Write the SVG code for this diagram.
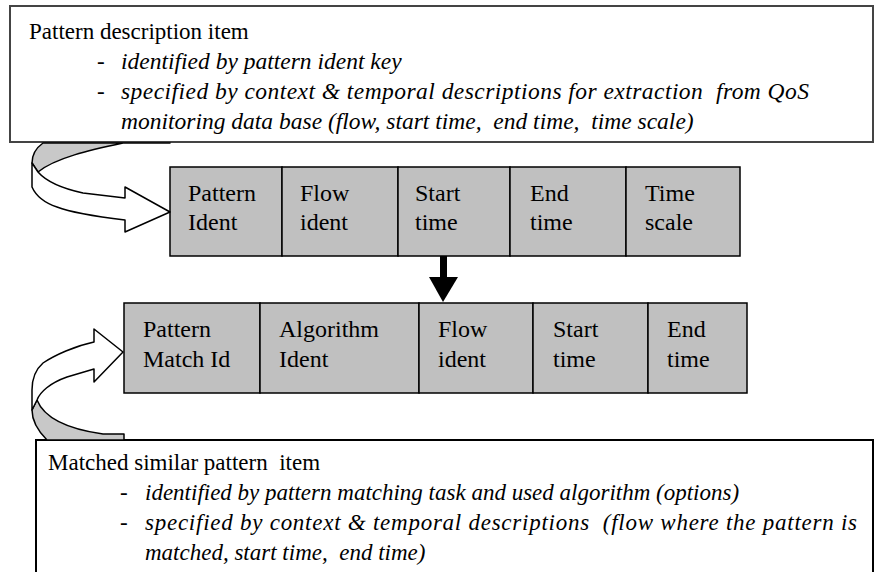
<svg xmlns="http://www.w3.org/2000/svg" width="874" height="572" viewBox="0 0 874 572">
<style>
text{font-family:"Liberation Serif","Times New Roman",serif;fill:#000;white-space:pre}
.body{font-size:23px}
.it{font-size:23px;font-style:italic}
.it2{font-size:23.5px;font-style:italic}
.cell{font-size:24px}
.box{fill:#c0c0c0;stroke:#000;stroke-width:1.5}
.panel{fill:#fff;stroke:#444;stroke-width:2}
.ribbon{stroke:#000;stroke-width:1.5;stroke-linejoin:round}
</style>
<rect width="874" height="572" fill="#fff"/>
<g id="pattern-description">
<rect class="panel" x="10" y="6" width="863" height="136"/>
<text class="body" x="29" y="39">Pattern description item</text>
<text class="body" x="97" y="69">-</text>
<text class="it2" x="121" y="69">identified by pattern ident key</text>
<text class="body" x="97" y="99">-</text>
<text class="it2" x="121" y="99" textLength="688" lengthAdjust="spacing">specified by context &amp; temporal descriptions for extraction  from QoS</text>
<text class="it2" x="121" y="129">monitoring data base (flow, start time,  end time,  time scale)</text>
</g>
<g id="matched-pattern">
<rect class="panel" x="36" y="440" width="837" height="150" style="stroke:#000"/>
<text class="body" x="48" y="470">Matched similar pattern  item</text>
<text class="body" x="120" y="500">-</text>
<text class="it" x="145" y="500">identified by pattern matching task and used algorithm (options)</text>
<text class="body" x="120" y="530">-</text>
<text class="it" x="145" y="530" textLength="712" lengthAdjust="spacing">specified by context &amp; temporal descriptions  (flow where the pattern is</text>
<text class="it" x="145" y="560">matched, start time,  end time)</text>
</g>
<g id="description-record">
<rect class="box" x="170" y="167" width="112" height="89"/>
<rect class="box" x="282" y="167" width="116" height="89"/>
<rect class="box" x="398" y="167" width="112" height="89"/>
<rect class="box" x="510" y="167" width="116" height="89"/>
<rect class="box" x="626" y="167" width="114" height="89"/>
<text class="cell" x="188" y="201">Pattern</text><text class="cell" x="188" y="230">Ident</text>
<text class="cell" x="300" y="201">Flow</text><text class="cell" x="300" y="230">ident</text>
<text class="cell" x="415" y="201">Start</text><text class="cell" x="415" y="230">time</text>
<text class="cell" x="530" y="201">End</text><text class="cell" x="530" y="230">time</text>
<text class="cell" x="645" y="201">Time</text><text class="cell" x="645" y="230">scale</text>
</g>
<g id="match-record">
<rect class="box" x="124" y="303" width="136" height="90"/>
<rect class="box" x="260" y="303" width="159" height="90"/>
<rect class="box" x="419" y="303" width="114" height="90"/>
<rect class="box" x="533" y="303" width="115" height="90"/>
<rect class="box" x="648" y="303" width="99" height="90"/>
<text class="cell" x="143" y="337">Pattern</text><text class="cell" x="143" y="367">Match Id</text>
<text class="cell" x="279" y="337">Algorithm</text><text class="cell" x="279" y="367">Ident</text>
<text class="cell" x="438" y="337">Flow</text><text class="cell" x="438" y="367">ident</text>
<text class="cell" x="553" y="337">Start</text><text class="cell" x="553" y="367">time</text>
<text class="cell" x="667" y="337">End</text><text class="cell" x="667" y="367">time</text>
</g>
<g id="connectors">
<path class="ribbon" fill="#c8c8c8" d="M43,143 L170,143 L123,143 C90,150 55,158 38,172 L32,163 C32,155 36,148 43,143 Z"/>
<path class="ribbon" fill="#fff" d="M32,163 L38,172 C45,180 60,188 83,193 L125,198 L125,187 L170,212 L125,232 L125,220 C100,217 70,212 57,207 C45,203 36,196 32,187 Z"/>
<path class="ribbon" fill="#c8c8c8" d="M32,410 L37,400 C43,415 60,428 103,434 L124,434 L124,440 L47,440 C40,433 32,422 32,410 Z"/>
<path class="ribbon" fill="#fff" d="M32,410 L37,400 C40,392 50,383 67,377 L94,369 L94,382 L123,352 L94,329 L94,342 C75,346 55,355 43,363 C35,370 32,380 32,390 Z"/>
<rect x="440" y="256" width="7" height="22" fill="#000"/>
<polygon points="429,277 458,277 443,302" fill="#000"/>
</g>
</svg>
